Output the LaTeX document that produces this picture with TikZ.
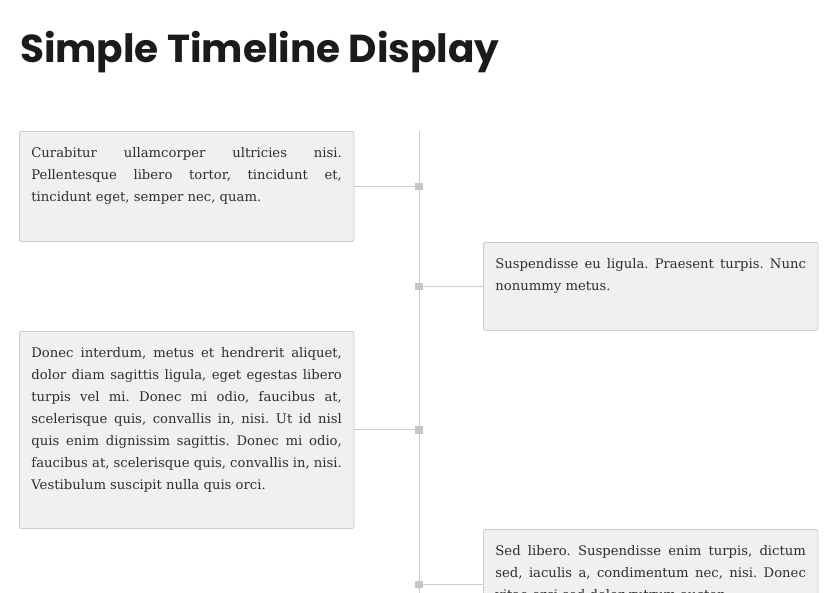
\documentclass[tikz,border=0pt]{standalone}
\usepackage{fontspec}
\setmainfont{DejaVu Serif}
\newfontfamily\titlefont{Poppins}
\usetikzlibrary{positioning}
\definecolor{cardfill}{HTML}{F0F0F0}
\definecolor{cardline}{HTML}{CCCCCC}
\definecolor{dotfill}{HTML}{C6C6C6}
\definecolor{bodytext}{HTML}{2E2E2E}
\definecolor{titletext}{HTML}{1B1B1B}
\hbadness=10000
\frenchspacing
% card text: height in pt, then the lines
\newcommand{\cardbody}[2]{\parbox[t][#1pt][t]{310.5pt}{\strut #2}}

\begin{document}
\begin{tikzpicture}[line cap=round,line join=round,x=1pt,y=-1pt,
  card/.style={draw=cardline,fill=cardfill,line width=0.8pt,rounded corners=1.5pt,inner xsep=12pt,inner ysep=10.3pt,anchor=north west,text=bodytext,font=\fontsize{13.2}{22}\selectfont},
  link/.style={draw=cardline,line width=0.9pt,line cap=butt},
  dot/.style={fill=dotfill,minimum size=7.5pt,inner sep=0pt}]
\useasboundingbox (0,0) rectangle (837,592);
\clip (0,0) rectangle (837,592);
\node[anchor=base west,inner sep=0pt,text=titletext,font=\titlefont\bfseries\fontsize{39}{46}\selectfont] (title) at (20,62) {Simple Timeline Display};
% timeline
\coordinate (tltop) at (419,131);
\coordinate (tlend) at (419,600);
\draw[link] (tltop) -- (tlend);
% cards
\node[card] (box1) at (19,131) {\cardbody{89.4}{Curabitur ullamcorper ultricies nisi.\linebreak Pellentesque libero tortor, tincidunt et,\linebreak tincidunt eget, semper nec, quam.}};
\node[card] (box2) at (483,242) {\cardbody{67.4}{Suspendisse eu ligula. Praesent turpis. Nunc\linebreak nonummy metus.}};
\node[card] (box3) at (19,331) {\cardbody{176.4}{Donec interdum, metus et hendrerit aliquet,\linebreak dolor diam sagittis ligula, eget egestas libero\linebreak turpis vel mi. Donec mi odio, faucibus at,\linebreak scelerisque quis, convallis in, nisi. Ut id nisl\linebreak quis enim dignissim sagittis. Donec mi odio,\linebreak faucibus at, scelerisque quis, convallis in, nisi.\linebreak Vestibulum suscipit nulla quis orci.}};
\node[card] (box4) at (483,529) {\cardbody{89.4}{Sed libero. Suspendisse enim turpis, dictum\linebreak sed, iaculis a, condimentum nec, nisi. Donec\linebreak vitae orci sed dolor rutrum auctor.}};
% connectors
\node[dot] (d1) at (box1.east -| tltop) {};
\node[dot] (d2) at (box2.west -| tltop) {};
\node[dot] (d3) at (box3.east -| tltop) {};
\node[dot] (d4) at (box4.west -| tltop) {};
\draw[link] (box1.east) -- (d1);
\draw[link] (d2) -- (box2.west);
\draw[link] (box3.east) -- (d3);
\draw[link] (d4) -- (box4.west);
\end{tikzpicture}
\end{document}
